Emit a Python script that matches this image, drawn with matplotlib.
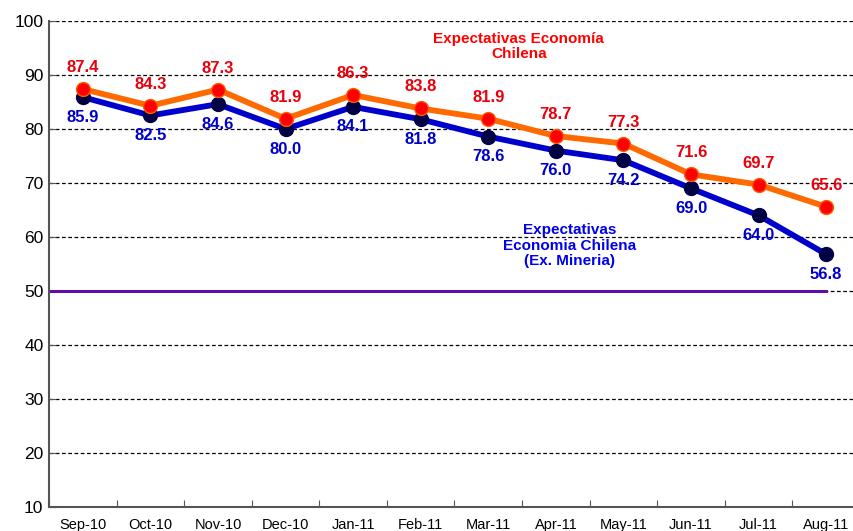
import matplotlib
matplotlib.use("Agg")
import matplotlib.pyplot as plt
from matplotlib import font_manager

months = ["Sep-10", "Oct-10", "Nov-10", "Dec-10", "Jan-11", "Feb-11",
          "Mar-11", "Apr-11", "May-11", "Jun-11", "Jul-11", "Aug-11"]
chilena = [87.4, 84.3, 87.3, 81.9, 86.3, 83.8, 81.9, 78.7, 77.3, 71.6, 69.7, 65.6]
ex_mineria = [85.9, 82.5, 84.6, 80.0, 84.1, 81.8, 78.6, 76.0, 74.2, 69.0, 64.0, 56.8]
neutral = 50
yticks = [10, 20, 30, 40, 50, 60, 70, 80, 90, 100]

names = {f.name for f in font_manager.fontManager.ttflist}
base = "Liberation Sans" if "Liberation Sans" in names else "DejaVu Sans"
narrow = "Liberation Sans Narrow" if "Liberation Sans Narrow" in names else base
plt.rcParams['font.family'] = [base, 'DejaVu Sans']

fig = plt.figure(figsize=(8.54, 5.31), dpi=100)
ax = fig.add_axes([49/854, 24/531, 811/854, 486/531])

x = list(range(len(months)))
ax.plot([-0.5, len(months) - 1], [neutral, neutral], color="#5a10a8", lw=2.2, zorder=2)
ax.plot(x, chilena, color="#ff6a00", lw=4.2, marker="o", markersize=10,
        markerfacecolor="#ff0000", markeredgecolor="#ff5a00", markeredgewidth=1, zorder=4)
ax.plot(x, ex_mineria, color="#0000cc", lw=4.2, marker="o", markersize=10,
        markerfacecolor="#000044", markeredgecolor="#000044", zorder=3)

for xi, v in zip(x, chilena):
    ax.annotate(f"{v:.1f}", (xi, v), xytext=(0, 15.5), textcoords="offset points",
                ha="center", va="center", color="#e8000b", fontweight="bold", fontsize=12)
for xi, v in zip(x, ex_mineria):
    ax.annotate(f"{v:.1f}", (xi, v), xytext=(0, -14.5), textcoords="offset points",
                ha="center", va="center", color="#0000cc", fontweight="bold", fontsize=12)

ax.text(6.45, 95.3, "Expectativas Economía\nChilena", color="#ff0000", fontweight="bold",
        fontsize=11, ha="center", va="center", linespacing=1.15)
ax.text(7.2, 58.4, "Expectativas\nEconomia Chilena\n(Ex. Mineria)", color="#0000ee",
        fontweight="bold", fontsize=11, ha="center", va="center", linespacing=1.15)

ax.set_xlim(-0.5, len(months) - 0.5)
ax.set_ylim(10, 100)
ax.set_yticks(yticks)
ax.set_xticks([i - 0.5 for i in range(len(months) + 1)], minor=False)
ax.set_xticklabels([])
ax.set_xticks(x, minor=True)
ax.set_xticklabels(months, minor=True, fontfamily=narrow, fontsize=10.5)
ax.tick_params(axis="x", which="minor", length=0, pad=8)
ax.tick_params(axis="x", which="major", length=5, direction="in", color="#555555")
ax.tick_params(axis="y", length=5, direction="in", color="#555555", labelsize=12.5, pad=4)
for lab in ax.get_yticklabels():
    lab.set_fontfamily(narrow)

ax.yaxis.grid(True, color="black", linestyle=(0, (3, 2)), linewidth=0.9)
ax.set_axisbelow(True)
for s in ["top", "right"]:
    ax.spines[s].set_visible(False)
for s in ["left", "bottom"]:
    ax.spines[s].set_color("#555555")
    ax.spines[s].set_linewidth(1.5)

fig.savefig("out.png", dpi=100)
